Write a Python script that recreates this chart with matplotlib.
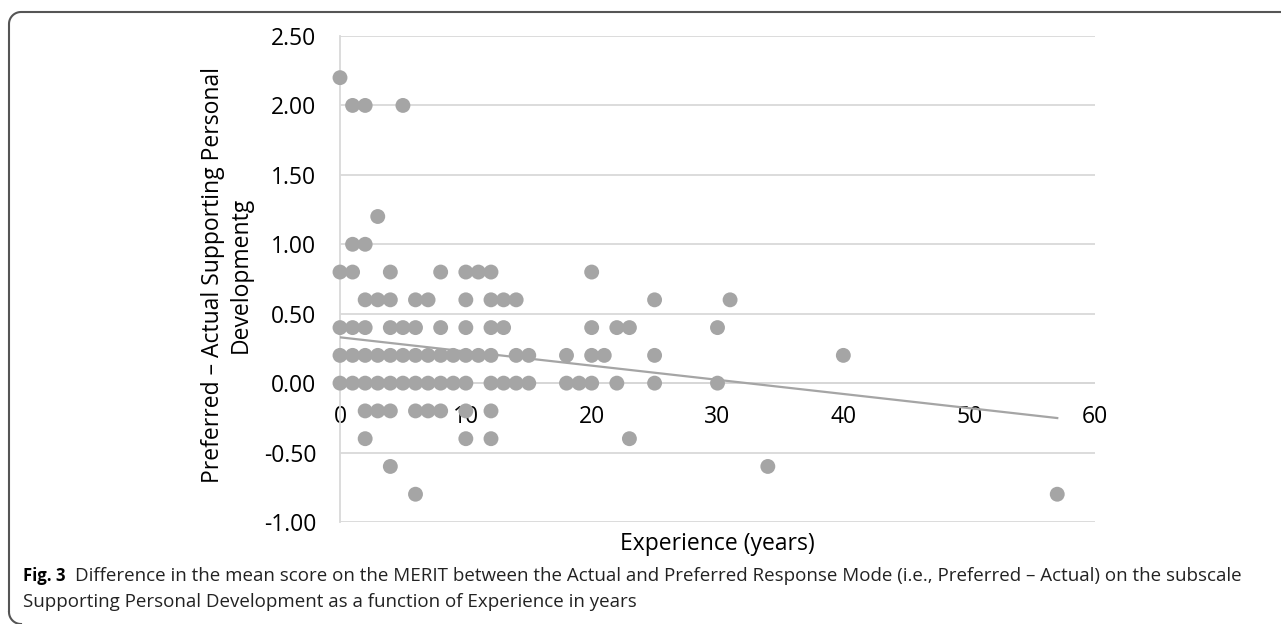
import numpy as np
import matplotlib
matplotlib.use("Agg")
import matplotlib.pyplot as plt

plt.rcParams["font.family"] = ["Open Sans", "DejaVu Sans"]

# experience (years) and preferred - actual difference, read per point
experience = [
    0,
    1, 2, 5,
    3,
    1, 2,
    0, 1, 4, 8, 10, 11, 12, 20,
    2, 3, 4, 6, 7, 10, 12, 13, 14, 25, 31,
    0, 1, 2, 4, 5, 6, 8, 10, 12, 13, 20, 22, 23, 30,
    0, 1, 2, 3, 4, 5, 6, 7, 8, 9, 10, 11, 12, 14, 15, 18, 20, 21, 25, 40,
    0, 1, 2, 3, 4, 5, 6, 7, 8, 9, 10, 12, 13, 14, 15, 18, 19, 20, 22, 25, 30,
    2, 3, 4, 6, 7, 8, 10, 12,
    2, 10, 12, 23,
    4, 34,
    6, 57,
]
difference = (
    [2.2]
    + [2.0] * 3
    + [1.2]
    + [1.0] * 2
    + [0.8] * 8
    + [0.6] * 11
    + [0.4] * 14
    + [0.2] * 20
    + [0.0] * 21
    + [-0.2] * 8
    + [-0.4] * 4
    + [-0.6] * 2
    + [-0.8] * 2
)

# linear trendline as drawn in the figure (overlapping points hide some data)
trend_intercept = 0.33
trend_slope = -0.0102

x_ticks = [0, 10, 20, 30, 40, 50, 60]
y_ticks = [-1.0, -0.5, 0.0, 0.5, 1.0, 1.5, 2.0, 2.5]

W, H = 1281, 624
FS = 16.5
fig = plt.figure(figsize=(W / 100, H / 100), dpi=100)
ax = fig.add_axes([340 / W, 1 - 522 / H, 755 / W, 486 / H])

x = np.array(experience, dtype=float)
y = np.array(difference, dtype=float)

ax.scatter(x, y, s=115, color="#a5a5a5", edgecolors="none", zorder=3, clip_on=False)

xs = np.array([x.min(), x.max()])
ax.plot(xs, trend_intercept + trend_slope * xs, color="#a5a5a5", lw=1.6, zorder=4)

ax.set_xlim(0, 60)
ax.set_ylim(-1.0, 2.5)
ax.set_xticks(x_ticks)
ax.set_yticks(y_ticks)
ax.set_yticklabels([f"{v:.2f}" for v in y_ticks])
ax.yaxis.grid(True, color="#d9d9d9", lw=1.3, zorder=0)
ax.axhline(0, color="#bfbfbf", lw=1.3, zorder=1)

for s in ["top", "right", "bottom"]:
    ax.spines[s].set_visible(False)
ax.spines["left"].set_color("#d9d9d9")
ax.spines["left"].set_linewidth(1.3)
ax.tick_params(axis="both", length=0, labelsize=FS, colors="black")
ax.tick_params(axis="y", pad=17)
ax.spines["bottom"].set_position(("data", 0))
ax.xaxis.set_tick_params(pad=16)

fig.text(717 / W, 1 - 544 / H, "Experience (years)", fontsize=FS, ha="center", va="center")
fig.text(227 / W, 1 - 275 / H, "Preferred \u2013 Actual Supporting Personal\nDevelopmentg",
         fontsize=FS, rotation=90, ha="center", va="center", multialignment="center",
         linespacing=1.2)

# caption frame and text
ov = fig.add_axes([0, 0, 1, 1], zorder=-1)
ov.set_xlim(0, W)
ov.set_ylim(H, 0)
ov.axis("off")
r = 12
t = np.linspace(np.pi, 1.5 * np.pi, 20)
top_arc_x = 9 + r + r * np.cos(t)
top_arc_y = 12 + r + r * np.sin(t)
bx = [W] + list(top_arc_x[::-1]) + [9, 9]
by = [12] + list(top_arc_y[::-1]) + [12 + r, 612]
ov.plot(bx, by, color="#555555", lw=1.5, solid_capstyle="butt")
t2 = np.linspace(np.pi, 0.5 * np.pi, 20)
ov.plot(9 + r + r * np.cos(t2), 612 + r * np.sin(t2), color="#555555", lw=1.5)

CFS = 13.5
fig.text(23 / W, 1 - 576 / H, "Fig. 3", fontsize=12, fontweight="bold", ha="left", va="center")
fig.text(75 / W, 1 - 576 / H,
         "Difference in the mean score on the MERIT between the Actual and Preferred Response Mode "
         "(i.e., Preferred \u2013 Actual) on the subscale",
         fontsize=CFS, ha="left", va="center", color="#222222")
fig.text(23 / W, 1 - 602 / H,
         "Supporting Personal Development as a function of Experience in years",
         fontsize=CFS, ha="left", va="center", color="#222222")

fig.savefig("out.png", dpi=100)
